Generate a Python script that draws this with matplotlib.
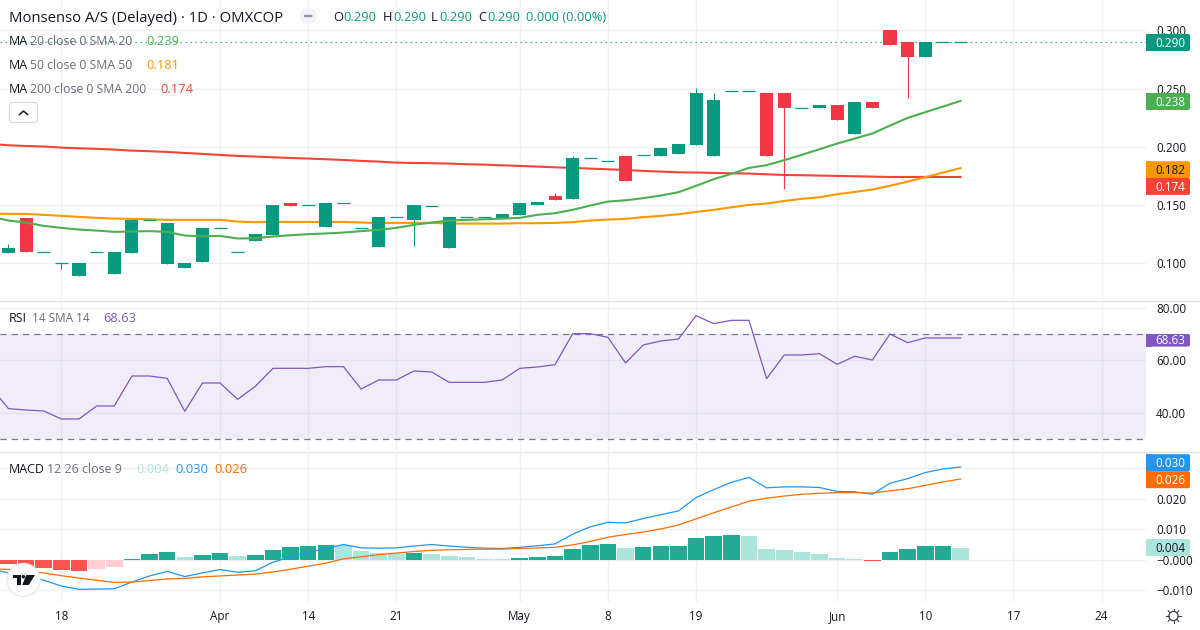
# coding: utf-8

import matplotlib
matplotlib.use("Agg")
from matplotlib import pyplot as plt
from matplotlib.patches import Circle, FancyBboxPatch, Polygon, Rectangle

plt.rcParams['font.family'] = ['Open Sans', 'DejaVu Sans']

# Daily prices
opens = [.109, .139, .1094, .100, .089, .1094, .0908, .1089, .1369, .0994, .096,
         .1011, .130, .1094, .1192, .1243, .1518, .1498, .1312, .1515, .130, .114,
         .1395, .1372, .1489, .1132, .1395, .1395, .1386, .1415, .150, .1578, .1552,
         .1901, .1876, .1921, .1927, .1921, .1938, .2016, .1921, .2476, .2476, .2462,
         .2462, .2336, .2333, .2359, .211, .2385, .3003, .290, .2771, .290, .290]
closes = [.113, .110, .1094, .100, .100, .1094, .1097, .1375, .1369, .1346, .1003,
          .1303, .130, .1094, .1252, .150, .1492, .1498, .1518, .1515, .130, .1398,
          .1395, .150, .1489, .1398, .1395, .1395, .1423, .1518, .1526, .1544, .1904,
          .1901, .1876, .1707, .1927, .199, .2024, .2462, .2402, .2476, .2476, .1921,
          .2333, .2336, .2359, .223, .2385, .2333, .2874, .2771, .290, .290, .290]
highs = [.1166, .139, .1094, .100, .100, .1094, .1097, .1375, .1369, .1346, .1003,
         .1303, .130, .1094, .1252, .150, .1518, .1498, .1518, .1515, .130, .1398,
         .1395, .150, .1489, .1398, .1395, .1395, .1423, .1518, .1526, .1604, .1921,
         .1901, .1876, .1921, .1927, .199, .2024, .2505, .2462, .2476, .2476, .2462,
         .2462, .2336, .2359, .2359, .2385, .2385, .3003, .290, .290, .290, .290]
lows = [.109, .110, .1094, .095, .089, .1094, .0908, .1089, .1369, .0994, .096,
        .1011, .130, .1094, .1192, .1243, .1492, .1498, .1312, .1515, .130, .114,
        .1395, .1152, .1489, .1132, .1395, .1395, .1386, .1415, .150, .1544, .1552,
        .1901, .1876, .1707, .1927, .1921, .1938, .2016, .1921, .2476, .2476, .1921,
        .1638, .2336, .2333, .223, .211, .2333, .2874, .2419, .2771, .290, .290]

# Indicator lines start one bar earlier than the candles
sma20 = [.1401, .1367, .1350, .1321, .1304, .1290, .1281, .1270, .1273, .1276, .1270,
         .1238, .1232, .1235, .1213, .1215, .1230, .1241, .1250, .1256, .1264, .1276,
         .1287, .1304, .1330, .1350, .1367, .1373, .1378, .1384, .1390, .1416, .1430,
         .1459, .1496, .1530, .1541, .1559, .1582, .1610, .1665, .1722, .1767, .1819,
         .1842, .1885, .1931, .1979, .2028, .2071, .2114, .2182, .2248, .2297, .2345,
         .2394]
sma50 = [.1427, .1424, .1424, .1416, .1407, .1398, .1390, .1384, .1381, .1378, .1373,
         .1373, .1373, .1373, .1358, .1353, .1355, .1355, .1355, .1355, .1355, .1350,
         .1344, .1347, .1347, .1347, .1341, .1341, .1341, .1341, .1344, .1344, .1347,
         .1353, .1367, .1376, .1381, .1396, .1407, .1421, .1441, .1459, .1481, .1501,
         .1513, .1535, .1553, .1567, .1593, .1613, .1633, .1665, .1702, .1739, .1779,
         .1816]
sma200 = [.2025, .2013, .2007, .2002, .1993, .1987, .1982, .1976, .1967, .1962, .1956,
          .1947, .1939, .1930, .1922, .1916, .1910, .1904, .1899, .1893, .1887, .1879,
          .1873, .1864, .1861, .1859, .1856, .1850, .1847, .1841, .1836, .1830, .1824,
          .1819, .1813, .1807, .1801, .1793, .1787, .1781, .1779, .1776, .1773, .1770,
          .1764, .1758, .1756, .1753, .1750, .1747, .1744, .1741, .1741, .1741, .1741,
          .1741]
rsi = [49.7, 41.53, 41.02, 40.63, 37.57, 37.57, 42.55, 42.55, 54.05, 54.05, 53.16,
       40.50, 51.37, 51.37, 45.11, 50.09, 56.99, 56.99, 56.99, 57.63, 57.63, 49.07,
       52.52, 52.52, 55.97, 55.59, 51.62, 51.62, 51.62, 52.52, 56.99, 57.50, 58.40,
       70.28, 70.28, 68.88, 59.04, 65.94, 67.47, 68.24, 77.18, 74.12, 75.39, 75.39,
       53.03, 62.10, 62.10, 62.61, 58.52, 61.59, 60.19, 70.15, 66.83, 68.63, 68.63,
       68.63]
macd = [-.0030, -.0043, -.0053, -.0067, -.0086, -.0097, -.0096, -.0095, -.0073, -.0053,
        -.0038, -.0055, -.0043, -.0032, -.0041, -.0036, -.0008, .0010, .0024, .0037,
        .0050, .0039, .0038, .0039, .0045, .0050, .0045, .0041, .0038, .0037, .0041,
        .0046, .0052, .0084, .0108, .0123, .0121, .0135, .0148, .0160, .0204, .0230,
        .0254, .0270, .0236, .0239, .0239, .0237, .0224, .0223, .0215, .0251, .0266,
        .0286, .0298, .0304]
signal = [-.0029, -.0032, -.0037, -.0043, -.0052, -.0060, -.0067, -.0074, -.0073, -.0068,
          -.0063, -.0061, -.0056, -.0053, -.0050, -.0047, -.0040, -.0031, -.0021, -.0011,
          .0003, .0010, .0017, .0022, .0027, .0031, .0033, .0034, .0035, .0035, .0037,
          .0039, .0041, .0049, .0060, .0074, .0083, .0091, .0101, .0114, .0134, .0154,
          .0173, .0192, .0202, .0209, .0215, .0218, .0220, .0220, .0219, .0226, .0233,
          .0244, .0255, .0265]
hist = [-.0015, -.0023, -.0028, -.0034, -.0038, -.0031, -.0025, .0003, .0018, .0025, .0008,
        .0015, .0021, .0011, .0015, .0031, .0041, .0044, .0048, .0047, .0028, .0021,
        .0018, .0021, .0018, .0011, .0008, .0002, .0001, .0005, .0008, .0011, .0034,
        .0048, .0051, .0038, .0041, .0044, .0045, .0070, .0077, .0080, .0077, .0034,
        .0031, .0025, .0018, .0005, .0002, -.0005, .0025, .0034, .0044, .0045, .0040]

# Axis ticks
date_ticks = [3, 12, 17, 22, 29, 34, 39, 47, 52, 57, 62]
date_labels = ['18', 'Apr', '14', '21', 'May', '8', '19', 'Jun', '10', '17', '24']
price_ticks = [.100, .150, .200, .250, .300]
rsi_ticks = [40, 60, 80]
macd_ticks = [-.010, 0, .010, .020, .030]
# the 0.030 row sits under the MACD value tag
macd_labels = ['\u22120.010', '\u22120.000', '0.010', '0.020', '']

UP = '#089981'
DOWN = '#F23645'
C20 = '#4CAF50'
C50 = '#FF9800'
C200 = '#F44336'
CRSI = '#7E57C2'
CMACD = '#2196F3'
CSIG = '#FF6D00'
GRID = '#F0F1F4'
SEP = '#E0E3EB'
INK = '#131722'
GREY = '#6A6D78'
W, H = 1200, 630
AXW = 1146
AXIS_SIZE = 8.4


def panneau(top, bottom, ylim):
    """Axes placed from pixel rows, sharing the bar scale"""
    ax = fig.add_axes([0, 1 - bottom / H, AXW / W, (bottom - top) / H])
    ax.set_xlim(-0.482, 64.52)
    ax.set_ylim(*ylim)
    ax.set_facecolor('none')
    for s in ax.spines.values():
        s.set_visible(False)
    ax.set_xticks(date_ticks)
    ax.tick_params(length=0, labelbottom=False)
    ax.yaxis.tick_right()
    ax.grid(True, color=GRID, lw=1.0)
    ax.set_axisbelow(True)
    return ax


fig = plt.figure(figsize=(W / 100, H / 100), dpi=100, facecolor='white')
barres = list(range(len(closes)))
lignes = list(range(-1, len(closes)))

# Prix
ax1 = panneau(0, 300, (.0685, .326))
ax1.set_yticks(price_ticks)
ax1.set_yticklabels(['%.3f' % p for p in price_ticks])
for i in barres:
    c = UP if closes[i] >= opens[i] else DOWN
    ax1.vlines(i, lows[i], highs[i], color=c, lw=0.8, zorder=3)
    if opens[i] == closes[i]:
        ax1.hlines(closes[i], i - .37, i + .37, color=c, lw=0.9, zorder=3)
    else:
        ax1.bar(i, abs(closes[i] - opens[i]), bottom=min(opens[i], closes[i]),
                width=.74, color=c, lw=0, zorder=3)
ax1.plot(lignes, sma200, color=C200, lw=1.5, zorder=2)
ax1.plot(lignes, sma50, color=C50, lw=1.5, zorder=2)
ax1.plot(lignes, sma20, color=C20, lw=1.5, zorder=4)
ax1.axhline(closes[-1], color=UP, lw=0.9, ls=(0, (1, 3)), zorder=2)

# RSI
ax2 = panneau(301, 451, (25.3, 82.8))
ax2.set_yticks(rsi_ticks)
ax2.set_yticklabels(['%.2f' % v for v in rsi_ticks])
ax2.axhspan(30, 70, color=CRSI, alpha=.1, lw=0, zorder=1)
ax2.axhline(70, color='#787B86', lw=0.9, ls=(0, (5, 4)), zorder=2)
ax2.axhline(30, color='#787B86', lw=0.9, ls=(0, (5, 4)), zorder=2)
ax2.plot(lignes, rsi, color=CRSI, lw=0.9, zorder=3)

# MACD
ax3 = panneau(452, 602, (-.01384, .03534))
ax3.set_yticks(macd_ticks)
ax3.set_yticklabels(macd_labels)
prev = 0
for i in barres:
    v = hist[i]
    if v >= 0:
        c = '#22AB94' if v >= prev else '#ACE5DC'
    else:
        c = '#FF5252' if v <= prev else '#FFCDD2'
    ax3.bar(i, v, width=.94, color=c, lw=0, zorder=2)
    prev = v
ax3.plot(lignes, macd, color=CMACD, lw=0.9, zorder=3)
ax3.plot(lignes, signal, color=CSIG, lw=0.9, zorder=3)
ax3.set_xticklabels(date_labels)
ax3.tick_params(axis='x', labelbottom=True, pad=13, labelsize=AXIS_SIZE, labelcolor=INK)
for lab in ax3.get_xticklabels():
    lab.set_verticalalignment('baseline')

for ax in (ax1, ax2, ax3):
    ax.tick_params(axis='y', labelsize=AXIS_SIZE, labelcolor=INK, pad=7.2)

# Calque en pixels pour les textes et les pastilles
top = fig.add_axes([0, 0, 1, 1], zorder=10)
top.set_xlim(0, W)
top.set_ylim(H, 0)
top.axis('off')
top.patch.set_alpha(0)

top.plot([0, W], [300.5, 300.5], color=SEP, lw=1)
top.plot([0, W], [451.7, 451.7], color=SEP, lw=1)


def texte(x, y, s, color=INK, size=9.3, **kw):
    top.text(x, y, s, color=color, fontsize=size, va='baseline', ha='left', **kw)


def pastille(y, h, s, bg, fg='white'):
    top.add_patch(FancyBboxPatch((1148, y - h / 2 + 2), 40, h - 4,
                                 boxstyle='round,pad=2,rounding_size=2', fc=bg, ec='none'))
    top.add_patch(Rectangle((1146, y - h / 2), 6, h, fc=bg, ec='none'))
    top.text(1170, y + 4.2, s, color=fg, fontsize=AXIS_SIZE, ha='center', va='baseline')


# En-tete
texte(9, 21.5, 'Monsenso A/S (Delayed) \u00b7 1D \u00b7 OMXCOP', size=10.7)
top.add_patch(Circle((308, 16), 8.5, fc='#F0F3FA', ec='none'))
top.add_patch(FancyBboxPatch((304, 14.8), 8.5, 2.4, boxstyle='round,pad=0,rounding_size=1',
                             fc='#8E919B', ec='none'))
for x, lab, xv in [(333, 'O', 343), (383, 'H', 393), (431, 'L', 439), (478, 'C', 487)]:
    texte(x, 20.8, lab)
    texte(xv, 20.8, '0.290', color=UP)
texte(526, 20.8, '0.000 (0.00%)', color=UP)

# Legendes
for y, nom, val, xv, c in [(45, '20 close 0 SMA 20', '0.239', 146, C20),
                           (69, '50 close 0 SMA 50', '0.181', 146, C50),
                           (93, '200 close 0 SMA 200', '0.174', 160, C200)]:
    texte(9, y, 'MA', size=8.9)
    texte(30, y, nom, color=GREY, size=8.8)
    texte(xv, y, val, color=c)
top.add_patch(FancyBboxPatch((10, 103), 27, 19, boxstyle='round,pad=0.5,rounding_size=3',
                             fc='white', ec='#D6D8E0', lw=0.8))
top.plot([19.5, 23.5, 27.5], [114.5, 111, 114.5], color=INK, lw=1.1)

texte(9, 321.7, 'RSI', size=8.9)
texte(32, 321.7, '14 SMA 14', color=GREY, size=8.5)
texte(103, 321.7, '68.63', color=CRSI)

texte(9, 472.7, 'MACD', size=8.9)
texte(47, 472.7, '12 26 close 9', color=GREY, size=8.9)
texte(136, 472.7, '0.004', color='#ACE5DC')
texte(175, 472.7, '0.030', color=CMACD)
texte(214, 472.7, '0.026', color=CSIG)

# Pastilles de l'echelle
pastille(42.5, 17, '0.290', UP)
pastille(101.5, 17, '0.238', C20)
pastille(169.7, 17, '0.182', C50, INK)
pastille(186.4, 17, '0.174', C200)
pastille(340.3, 12.6, '68.63', CRSI)
pastille(462.7, 17, '0.030', CMACD)
pastille(479.7, 17, '0.026', CSIG)
pastille(547.5, 17, '0.004', '#ACE5DC', INK)

# Logo
top.add_patch(Circle((23.5, 580), 16.5, fc='white', ec='#E9EAEE', lw=1, zorder=5))
top.add_patch(Polygon([(12.7, 575), (20.8, 575), (20.8, 585), (16.6, 585), (16.6, 578.4), (12.7, 578.4)],
                      fc=INK, ec='none', zorder=6))
top.add_patch(Circle((23.4, 576.7), 1.8, fc=INK, ec='none', zorder=6))
top.add_patch(Polygon([(26.4, 575), (35, 575), (28.6, 585), (22.2, 585)], fc=INK, ec='none', zorder=6))

# Reglages
top.add_patch(Circle((1173.5, 616), 4.6, fc='white', ec='#3A3E4A', lw=0.9))
for a, b, c, d in [(1173.5, 608.6, 1173.5, 611), (1173.5, 621, 1173.5, 623.4),
                   (1166, 616, 1168.6, 616), (1178.4, 616, 1181, 616),
                   (1168.2, 610.8, 1169.8, 612.4), (1177.2, 619.7, 1178.8, 621.2),
                   (1168.2, 621.2, 1169.8, 619.7), (1177.2, 612.4, 1178.8, 610.8)]:
    top.plot([a, c], [b, d], color='#3A3E4A', lw=0.8)

plt.savefig('out.png', dpi=100)
plt.close()
